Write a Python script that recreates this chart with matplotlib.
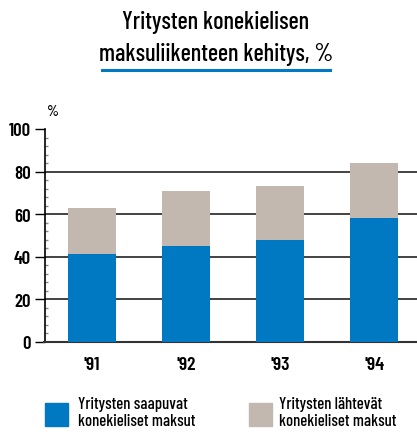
import matplotlib
matplotlib.use("Agg")
import matplotlib.pyplot as plt
from matplotlib.lines import Line2D
from matplotlib.patches import Rectangle

years = ["'91", "'92", "'93", "'94"]
incoming = [41, 45, 48, 58]
outgoing = [22, 26, 25, 26]
yticks = [0, 20, 40, 60, 80, 100]
title_lines = ["Yritysten konekielisen", "maksuliikenteen kehitys, %"]
legend_labels = ["Yritysten saapuvat\nkonekieliset maksut", "Yritysten lähtevät\nkonekieliset maksut"]

FAM = ["Barlow Condensed", "DejaVu Sans"]

BLUE = "#0079C2"
GRAY = "#C2B8B0"

fig = plt.figure(figsize=(4.17, 4.35), dpi=100)
ax = fig.add_axes([44.5/417, 1-342.7/435, 1-44.5/417, (342.7-130)/435])

x = list(range(len(years)))
ax.bar(x, incoming, width=0.51, color=BLUE, zorder=3)
ax.bar(x, outgoing, bottom=incoming, width=0.51, color=GRAY, zorder=3)

ax.set_ylim(0, 100)
ax.set_xlim(-0.505, 3.457)
for y in yticks[1:-1]:
    ax.axhline(y, color="#222222", lw=1.2, zorder=1)
ax.set_yticks(yticks)
ax.set_yticklabels([str(v) for v in yticks], family=FAM, fontsize=13.5, fontweight="semibold")
ax.set_yticks(range(0, 101, 4), minor=True)
ax.tick_params(axis="y", which="major", direction="out", length=7, width=1, pad=3)
ax.tick_params(axis="y", which="minor", direction="in", length=2, width=1, color="#888888")
ax.set_xticks(x)
ax.set_xticklabels(years, family=FAM, fontsize=14, fontweight="semibold")
ax.tick_params(axis="x", length=0, pad=10)
for s in ["top", "right"]:
    ax.spines[s].set_visible(False)
ax.spines["left"].set_linewidth(1.2)
ax.spines["bottom"].set_linewidth(1.5)
ax.spines["bottom"].set_color("#333333")

fig.text(53/417, 1-112/435, "%", family=FAM, fontsize=11, fontweight="medium", ha="center", va="center")

fig.text(216/417, 1-22/435, title_lines[0], family=FAM, fontsize=17.5, fontweight="medium", ha="center", va="center")
fig.text(216/417, 1-55/435, title_lines[1], family=FAM, fontsize=17.5, fontweight="medium", ha="center", va="center")
fig.add_artist(Line2D([102/417, 330/417], [1-71/435, 1-71/435], color=BLUE, lw=2.2, transform=fig.transFigure))

for (x0, tx, col, lab) in [(45, 78, BLUE, legend_labels[0]), (249, 279, GRAY, legend_labels[1])]:
    fig.add_artist(Rectangle((x0/417, 1-427/435), 23/417, 23/435, color=col, transform=fig.transFigure))
    fig.text(tx/417, 1-413/435, lab, family=FAM, fontsize=12, fontweight="medium", ha="left", va="center", linespacing=1.15)

fig.savefig("out.png", dpi=100)
